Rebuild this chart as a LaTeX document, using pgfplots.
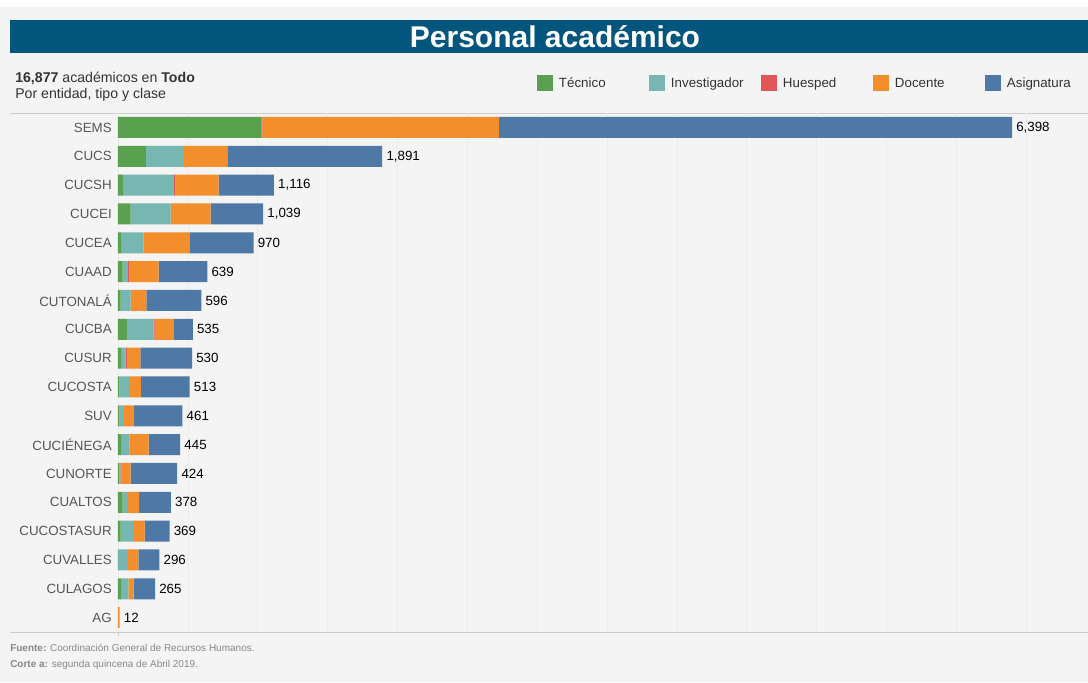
\documentclass[border=0pt]{standalone}
\usepackage{pgfplots}
\pgfplotsset{compat=1.18}
\usepackage{pgfplotstable}
\usepackage{fontspec}
\setmainfont{Liberation Sans}
\definecolor{bg}{HTML}{F4F4F4}
\definecolor{titlebar}{HTML}{02567E}
\definecolor{ctec}{HTML}{59A14F}
\definecolor{cinv}{HTML}{76B7B2}
\definecolor{chue}{HTML}{E15759}
\definecolor{cdoc}{HTML}{F28E2B}
\definecolor{casi}{HTML}{4E79A7}
\definecolor{gridgray}{HTML}{EBEBEB}
\definecolor{linegray}{HTML}{CCCCCC}
\definecolor{labgray}{HTML}{555555}
\definecolor{txtdark}{HTML}{333333}
\definecolor{footgray}{HTML}{888888}
\pgfplotstableread{
idx tec inv hue doc asi tot
0 1026 0 8 1692 3672 6398
1 200 272 0 310 1109 1891
2 41 356 14 310 395 1116
3 91 286 0 286 376 1039
4 26 157 0 327 460 970
5 33 38 10 210 348 639
6 19 72 0 112 393 596
7 64 191 7 138 135 535
8 26 29 8 98 369 530
9 10 67 0 86 350 513
10 10 26 0 79 346 461
11 26 55 0 138 226 445
12 10 7 7 67 333 424
13 33 31 0 88 226 378
14 19 88 0 84 178 369
15 1 64 0 81 150 296
16 26 48 0 38 153 265
17 0 0 0 12 0 12
}\datatable
\pgfplotsset{
  common/.style={
    at={(88.5pt,-474pt)}, anchor=south west,
    scale only axis, width=727.5pt, height=389.25pt,
    bar width=15.75pt,
    xmin=0, xmax=6942, ymin=-0.5, ymax=17.5, y dir=reverse,
  }
}
\begin{document}
\begin{tikzpicture}
\useasboundingbox (0,0) rectangle (816pt,-511.5pt);
\begin{scope}[x=0.75pt,y=-0.75pt]
\fill[white] (0,0) rectangle (1088,682);
\fill[bg] (0,7) rectangle (1088,682);
\fill[titlebar] (10,20) rectangle (1088,53);
\node[text=white, font=\bfseries\fontsize{22.5pt}{24pt}\selectfont] at (555,37) {Personal académico};
\node[anchor=base west, inner sep=0pt, text=txtdark, font=\fontsize{10.6pt}{12pt}\selectfont] at (15,82) {\textbf{16,877} académicos en \textbf{Todo}};
\node[anchor=base west, inner sep=0pt, text=txtdark, font=\fontsize{10.6pt}{12pt}\selectfont] at (15,98) {Por entidad, tipo y clase};
\draw[linegray, line width=0.75pt] (10,113) -- (1088,113);
\draw[linegray, line width=0.75pt] (10,632) -- (1088,632);
\draw[linegray, line width=0.75pt] (118,113) -- (118,636);
\node[anchor=base west, inner sep=0pt, text=footgray, font=\fontsize{7.5pt}{9pt}\selectfont] at (10,651) {\textbf{Fuente:} Coordinación General de Recursos Humanos.};
\node[anchor=base west, inner sep=0pt, text=footgray, font=\fontsize{7.5pt}{9pt}\selectfont] at (10,667) {\textbf{Corte a:} segunda quincena de Abril 2019.};
\end{scope}
\begin{axis}[
  common,
  xbar stacked,
  axis line style={draw=none},
  xtick={0,500,...,6500}, xticklabel=\empty,
  xmajorgrids, grid style={draw=gridgray, line width=0.5pt},
  ytick={0,...,17},
  yticklabels={SEMS,CUCS,CUCSH,CUCEI,CUCEA,CUAAD,CUTONALÁ,CUCBA,CUSUR,CUCOSTA,SUV,CUCIÉNEGA,CUNORTE,CUALTOS,CUCOSTASUR,CUVALLES,CULAGOS,AG},
  major tick length=0pt,
  yticklabel style={font=\fontsize{10pt}{12pt}\selectfont, text=labgray, inner sep=0pt, xshift=-4.5pt},
  legend columns=5,
  legend style={at={(0.432,1.057)}, anchor=west, draw=none, fill=none, inner sep=0pt,
    font=\fontsize{10pt}{12pt}\selectfont, text=txtdark,
    /tikz/every odd column/.append style={column sep=2.25pt},
    /tikz/every even column/.append style={column sep=0pt}},
  legend cell align=left,
  legend image code/.code={\fill[#1] (0pt,-6pt) rectangle (12pt,6pt);},
]
\addplot[fill=ctec, draw=none] table[x=tec, y=idx] {\datatable};
\addlegendentry{\makebox[65.75pt][l]{Técnico}}
\addplot[fill=cinv, draw=none] table[x=inv, y=idx] {\datatable};
\addlegendentry{\makebox[65.75pt][l]{Investigador}}
\addplot[fill=chue, draw=none] table[x=hue, y=idx] {\datatable};
\addlegendentry{\makebox[65.75pt][l]{Huesped}}
\addplot[fill=cdoc, draw=none] table[x=doc, y=idx] {\datatable};
\addlegendentry{\makebox[65.75pt][l]{Docente}}
\addplot[fill=casi, draw=none] table[x=asi, y=idx] {\datatable};
\addlegendentry{Asignatura}
\end{axis}
\begin{axis}[
  common, xbar, bar shift=0pt, hide axis,
]
\addplot[draw=none, fill=none, point meta=x,
  nodes near coords, nodes near coords align={horizontal},
  every node near coord/.append style={anchor=west, font=\fontsize{10pt}{12pt}\selectfont, text=black, inner sep=3pt,
    /pgf/number format/assume math mode=true, /pgf/number format/1000 sep={,}}]
  table[x=tot, y=idx] {\datatable};
\end{axis}
\end{tikzpicture}
\end{document}
